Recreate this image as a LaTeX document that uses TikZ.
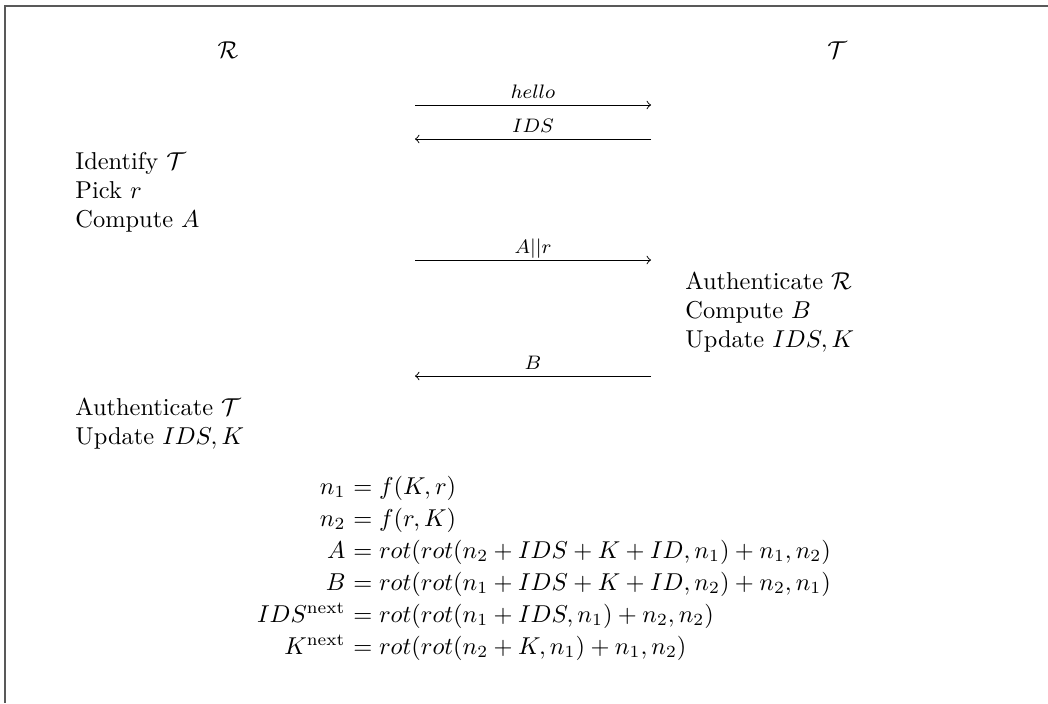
\documentclass[tikz,border=0pt]{standalone}
\usepackage{amsmath}
\begin{document}
\begin{tikzpicture}[x=0.4098pt,y=-0.4098pt,
  txt/.style={anchor=base west,inner sep=0pt},
  eql/.style={anchor=base east,inner sep=0pt},
  eqr/.style={anchor=base west,inner sep=0pt},
  msg/.style={->,line width=0.4pt},
  lbl/.style={midway,anchor=base,yshift=2.5pt,inner sep=0pt,font=\footnotesize},
  frame/.style={draw=black!65,line width=0.8pt}]
\useasboundingbox (0,0) rectangle (1048,703);
% frame
\coordinate (ftr) at (1048,6);
\coordinate (ftl) at (5,6);
\coordinate (fbl) at (5,703);
\draw[frame] (ftr) -- (ftl) -- (fbl);
% parties
\node[inner sep=0pt] (R) at (228,50) {$\mathcal{R}$};
\node[inner sep=0pt] (T) at (837,50) {$\mathcal{T}$};
% messages
\coordinate (m1a) at (415,105); \coordinate (m1b) at (651,105);
\draw[msg] (m1a) -- node[lbl]{$hello$} (m1b);
\coordinate (m2a) at (415,139); \coordinate (m2b) at (651,139);
\draw[msg] (m2b) -- node[lbl]{$IDS$} (m2a);
\coordinate (m3a) at (415,260); \coordinate (m3b) at (651,260);
\draw[msg] (m3a) -- node[lbl]{$A||r$} (m3b);
\coordinate (m4a) at (415,376); \coordinate (m4b) at (651,376);
\draw[msg] (m4b) -- node[lbl]{$B$} (m4a);
% reader steps
\node[txt] (r1) at (75,169) {Identify $\mathcal{T}$};
\node[txt] (r2) at (75,198) {Pick $r$};
\node[txt] (r3) at (75,227) {Compute $A$};
% tag steps
\node[txt] (t1) at (685,289) {Authenticate $\mathcal{R}$};
\node[txt] (t2) at (685,318) {Compute $B$};
\node[txt] (t3) at (685,347) {Update $IDS,K$};
% reader final steps
\node[txt] (r4) at (75,415) {Authenticate $\mathcal{T}$};
\node[txt] (r5) at (75,444) {Update $IDS,K$};
% equations
\node[eql] (e1l) at (346,494) {$n_1$};
\node[eqr] (e1r) at (346,494) {${}=f(K,r)$};
\node[eql] (e2l) at (346,526) {$n_2$};
\node[eqr] (e2r) at (346,526) {${}=f(r,K)$};
\node[eql] (e3l) at (346,558) {$A$};
\node[eqr] (e3r) at (346,558) {${}=rot(rot(n_2+IDS+K+ID,n_1)+n_1,n_2)$};
\node[eql] (e4l) at (346,590) {$B$};
\node[eqr] (e4r) at (346,590) {${}=rot(rot(n_1+IDS+K+ID,n_2)+n_2,n_1)$};
\node[eql] (e5l) at (346,622) {$IDS^{\mathrm{next}}$};
\node[eqr] (e5r) at (346,622) {${}=rot(rot(n_1+IDS,n_1)+n_2,n_2)$};
\node[eql] (e6l) at (346,654) {$K^{\mathrm{next}}$};
\node[eqr] (e6r) at (346,654) {${}=rot(rot(n_2+K,n_1)+n_1,n_2)$};
\end{tikzpicture}
\end{document}
